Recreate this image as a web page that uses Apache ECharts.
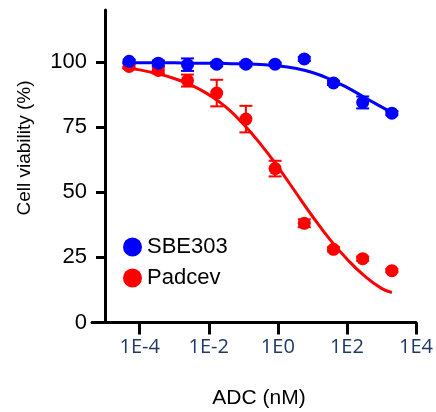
<!DOCTYPE html>
<html>
<head>
<meta charset="utf-8">
<script src="https://cdn.jsdelivr.net/npm/echarts@6/dist/echarts.min.js"></script>
<style>
html,body{margin:0;padding:0;background:#fff;}
#chart{width:436px;height:412px;}
</style>
</head>
<body>
<div id="chart"></div>
<script>
// ADC concentrations (nM), 7-fold dilution series
const concentrations = [0.0000496, 0.000347, 0.00243, 0.0170, 0.119, 0.833, 5.83, 40.8, 286, 2000];
const sbe303Mean = [100.3, 99.6, 99.0, 99.2, 99.2, 99.2, 101.2, 92.0, 84.5, 80.4];
const sbe303Err  = [0.6, 1.0, 2.4, 0.8, 0.8, 0.6, 0.8, 0.8, 2.3, 0.8];
const padcevMean = [98.3, 96.8, 92.9, 88.1, 78.1, 59.1, 38.1, 28.1, 24.5, 19.9];
const padcevErr  = [0.8, 1.2, 2.3, 5.1, 5.1, 3.0, 1.5, 0.8, 0.8, 0.6];

// fitted curves at these concentrations
const fitX = [0.0000316, 0.0001, 0.000316, 0.001, 0.00316, 0.01, 0.0316, 0.1, 0.316, 1, 3.16, 10, 31.6, 100, 316, 1000, 2000];
const sbe303Fit = [99.7, 99.7, 99.7, 99.7, 99.6, 99.6, 99.5, 99.3, 99.1, 98.6, 97.6, 96.0, 93.5, 90.3, 86.5, 82.8, 80.6];
const padcevFit = [97.9, 97.0, 95.6, 93.7, 91.1, 87.5, 82.7, 76.2, 68.5, 59.8, 50.3, 40.8, 32.0, 24.4, 18.0, 13.1, 11.5];

const xTicks = [0.0001, 0.01, 1, 100, 10000];
const xTickLabels = ['1E-4', '1E-2', '1E0', '1E2', '1E4'];
const yTicks = [0, 25, 50, 75, 100];

const seriesNames = ['SBE303', 'Padcev'];
const colors = ['#0000FF', '#FF0000'];

function pairs(xs, ys) { return xs.map((x, i) => [x, ys[i]]); }
function errData(xs, m, e) { return xs.map((x, i) => [x, m[i] - e[i], m[i] + e[i]]); }

function errRender(color) {
  return function (params, api) {
    const x = api.value(0);
    const lo = api.coord([x, api.value(1)]);
    const hi = api.coord([x, api.value(2)]);
    const hw = 6.5;
    const st = { stroke: color, lineWidth: 2 };
    return {
      type: 'group',
      children: [
        { type: 'line', shape: { x1: lo[0], y1: lo[1], x2: hi[0], y2: hi[1] }, style: st },
        { type: 'line', shape: { x1: lo[0] - hw, y1: lo[1], x2: lo[0] + hw, y2: lo[1] }, style: st },
        { type: 'line', shape: { x1: hi[0] - hw, y1: hi[1], x2: hi[0] + hw, y2: hi[1] }, style: st }
      ]
    };
  };
}

const chart = echarts.init(document.getElementById('chart'), null, { renderer: 'canvas' });
chart.setOption({
  animation: false,
  backgroundColor: '#ffffff',
  grid: { left: 92, right: 19, top: 10, bottom: 89.5, containLabel: false },
  legend: {
    orient: 'vertical',
    left: 118,
    top: 231,
    itemWidth: 19,
    itemHeight: 19,
    itemGap: 9,
    icon: 'circle',
    data: seriesNames,
    textStyle: { fontFamily: 'Liberation Sans', fontSize: 22, color: '#000' }
  },
  xAxis: {
    type: 'log',
    logBase: 10,
    min: Math.pow(10, -5.38),
    max: 10000,
    axisLine: { show: true, lineStyle: { color: '#000', width: 3 } },
    axisTick: { show: true, length: 12, lineStyle: { color: '#000', width: 3 }, customValues: xTicks },
    axisLabel: {
      customValues: xTicks,
      formatter: function (v) { const i = xTicks.findIndex(t => Math.abs(Math.log10(t) - Math.log10(v)) < 1e-6); return i >= 0 ? xTickLabels[i] : ''; },
      fontFamily: 'Open Sans', fontSize: 20, color: '#1F3864', margin: 15, showMinLabel: true, showMaxLabel: true
    },
    splitLine: { show: false },
    minorTick: { show: false }
  },
  yAxis: {
    type: 'value',
    min: 0,
    max: 120,
    offset: -13,
    axisLine: { show: true, lineStyle: { color: '#000', width: 3 } },
    axisTick: { show: true, length: 9, lineStyle: { color: '#000', width: 3 }, customValues: yTicks },
    axisLabel: { customValues: yTicks, fontFamily: 'Liberation Sans', fontSize: 22, color: '#000', margin: 18 },
    splitLine: { show: false }
  },
  graphic: [
    { type: 'text', x: 25, y: 148, rotation: Math.PI / 2,
      style: { text: 'Cell viability (%)', font: '19px "Liberation Sans"', fill: '#000', align: 'center', verticalAlign: 'middle' } },
    { type: 'text', x: 259, y: 398,
      style: { text: 'ADC (nM)', font: '21px "Liberation Sans"', fill: '#000', align: 'center', verticalAlign: 'middle' } }
  ],
  series: [
    { name: 'Padcev fit', type: 'line', data: pairs(fitX, padcevFit), smooth: true, showSymbol: false,
      lineStyle: { color: colors[1], width: 3 }, z: 2, silent: true },
    { name: 'Padcev err', type: 'custom', data: errData(concentrations, padcevMean, padcevErr),
      renderItem: errRender(colors[1]), z: 3, silent: true },
    { name: 'Padcev', type: 'scatter', data: pairs(concentrations, padcevMean), symbol: 'circle', symbolSize: 13,
      itemStyle: { color: colors[1], opacity: 1 }, z: 4 },
    { name: 'SBE303 fit', type: 'line', data: pairs(fitX, sbe303Fit), smooth: true, showSymbol: false,
      lineStyle: { color: colors[0], width: 3 }, z: 5, silent: true },
    { name: 'SBE303 err', type: 'custom', data: errData(concentrations, sbe303Mean, sbe303Err),
      renderItem: errRender(colors[0]), z: 6, silent: true },
    { name: 'SBE303', type: 'scatter', data: pairs(concentrations, sbe303Mean), symbol: 'circle', symbolSize: 13,
      itemStyle: { color: colors[0], opacity: 1 }, z: 7 }
  ]
});
</script>
</body>
</html>
